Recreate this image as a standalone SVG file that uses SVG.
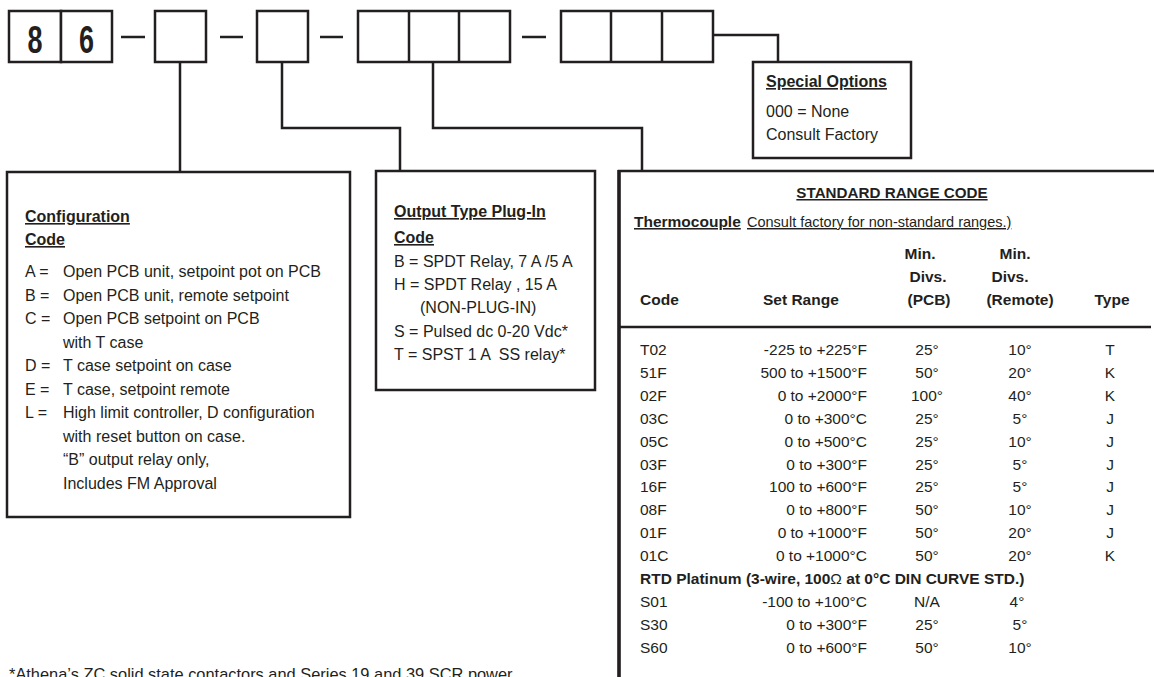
<svg xmlns="http://www.w3.org/2000/svg" width="1154" height="677" viewBox="0 0 1154 677">
<style>
.ln{stroke:#231f20;stroke-width:2.5;fill:none}
.bx{fill:#fff;stroke:#231f20;stroke-width:2.5}
.t{font-family:"Liberation Sans",Arial,sans-serif;font-size:16px;fill:#231f20}
.s{font-size:15.5px}
.b{font-weight:bold}
.u{text-decoration:underline}
.m{text-anchor:middle}
.e{text-anchor:end}
.dg{font-size:39px}
.ti{font-size:15.2px}
.sm{font-size:14.5px}
.fn{font-size:16.4px}
</style>
<rect width="1154" height="677" fill="#fff"/>

<g id="part-number">
<rect class="bx" x="9" y="11" width="52" height="51"/>
<rect class="bx" x="61" y="11" width="51" height="51"/>
<text class="t b m dg" x="35" y="53" textLength="15" lengthAdjust="spacingAndGlyphs">8</text>
<text class="t b m dg" x="86.5" y="53" textLength="15" lengthAdjust="spacingAndGlyphs">6</text>
<line class="ln" x1="121" y1="37" x2="145" y2="37"/>
<rect class="bx" x="155" y="11" width="51" height="51"/>
<line class="ln" x1="220" y1="37" x2="243" y2="37"/>
<rect class="bx" x="257" y="11" width="51" height="51"/>
<line class="ln" x1="320" y1="37" x2="343" y2="37"/>
<rect class="bx" x="358" y="11" width="152" height="51"/>
<line class="ln" x1="409" y1="11" x2="409" y2="62"/>
<line class="ln" x1="459" y1="11" x2="459" y2="62"/>
<line class="ln" x1="522" y1="37" x2="546" y2="37"/>
<rect class="bx" x="561" y="11" width="152" height="51"/>
<line class="ln" x1="611" y1="11" x2="611" y2="62"/>
<line class="ln" x1="662" y1="11" x2="662" y2="62"/>
</g>

<g id="connectors">
<polyline class="ln" points="180,62 180,172"/>
<polyline class="ln" points="282,62 282,128 400,128 400,171"/>
<polyline class="ln" points="433,62 433,128 642,128 642,171"/>
<polyline class="ln" points="713,35 778,35 778,62"/>
</g>

<g id="special-options">
<rect class="bx" x="753" y="62" width="158" height="96"/>
<text class="t b u" x="766" y="87">Special Options</text>
<text class="t" x="766" y="117">000 = None</text>
<text class="t" x="766" y="140">Consult Factory</text>
</g>

<g id="configuration-code">
<rect class="bx" x="7" y="172" width="343" height="345"/>
<text class="t b u" x="25" y="222">Configuration</text>
<text class="t b u" x="25" y="245">Code</text>
<text class="t" x="25" y="277">A =</text><text class="t" x="63" y="277">Open PCB unit, setpoint pot on PCB</text>
<text class="t" x="25" y="300.5">B =</text><text class="t" x="63" y="300.5">Open PCB unit, remote setpoint</text>
<text class="t" x="25" y="324">C =</text><text class="t" x="63" y="324">Open PCB setpoint on PCB</text>
<text class="t" x="63" y="347.5">with T case</text>
<text class="t" x="25" y="371">D =</text><text class="t" x="63" y="371">T case setpoint on case</text>
<text class="t" x="25" y="394.5">E =</text><text class="t" x="63" y="394.5">T case, setpoint remote</text>
<text class="t" x="25" y="418">L =</text><text class="t" x="63" y="418">High limit controller, D configuration</text>
<text class="t" x="63" y="441.5">with reset button on case.</text>
<text class="t" x="63" y="465">“B” output relay only,</text>
<text class="t" x="63" y="488.5">Includes FM Approval</text>
</g>

<g id="output-type">
<rect class="bx" x="376" y="171" width="219" height="219"/>
<text class="t b u" x="394" y="217">Output Type Plug-In</text>
<text class="t b u" x="394" y="243">Code</text>
<text class="t" x="394" y="267">B = SPDT Relay, 7 A /5 A</text>
<text class="t" x="394" y="290">H = SPDT Relay , 15 A</text>
<text class="t" x="420" y="313">(NON-PLUG-IN)</text>
<text class="t" x="394" y="337">S = Pulsed dc 0-20 Vdc*</text>
<text class="t" x="394" y="360" xml:space="preserve">T = SPST 1 A  SS relay*</text>
</g>

<g id="standard-range-code">
<rect class="bx" x="619" y="171" width="600" height="600"/>
<line x1="619" y1="170" x2="619" y2="677" stroke="#231f20" stroke-width="3.5"/>
<text class="t b u m ti" x="892" y="198">STANDARD RANGE CODE</text>
<text class="t b u s" x="634" y="227">Thermocouple</text>
<text class="t u sm" x="747" y="227">Consult factory for non-standard ranges.)</text>
<text class="t b s m" x="920" y="259">Min.</text>
<text class="t b s m" x="1015" y="259">Min.</text>
<text class="t b s m" x="928" y="282">Divs.</text>
<text class="t b s m" x="1010" y="282">Divs.</text>
<text class="t b s" x="640" y="305">Code</text>
<text class="t b s" x="763" y="305">Set Range</text>
<text class="t b s m" x="929" y="305">(PCB)</text>
<text class="t b s m" x="1020" y="305">(Remote)</text>
<text class="t b s m" x="1112" y="305">Type</text>
<line x1="619" y1="327" x2="1151" y2="327" stroke="#231f20" stroke-width="2.5"/>
<g class="t s">
<text x="640" y="355">T02</text><text class="e" x="867" y="355">-225 to +225°F</text><text class="m" x="927" y="355">25°</text><text class="m" x="1020" y="355">10°</text><text class="m" x="1110" y="355">T</text>
<text x="640" y="377.9">51F</text><text class="e" x="867" y="377.9">500 to +1500°F</text><text class="m" x="927" y="377.9">50°</text><text class="m" x="1020" y="377.9">20°</text><text class="m" x="1110" y="377.9">K</text>
<text x="640" y="400.8">02F</text><text class="e" x="867" y="400.8">0 to +2000°F</text><text class="m" x="927" y="400.8">100°</text><text class="m" x="1020" y="400.8">40°</text><text class="m" x="1110" y="400.8">K</text>
<text x="640" y="423.7">03C</text><text class="e" x="867" y="423.7">0 to +300°C</text><text class="m" x="927" y="423.7">25°</text><text class="m" x="1020" y="423.7">5°</text><text class="m" x="1110" y="423.7">J</text>
<text x="640" y="446.6">05C</text><text class="e" x="867" y="446.6">0 to +500°C</text><text class="m" x="927" y="446.6">25°</text><text class="m" x="1020" y="446.6">10°</text><text class="m" x="1110" y="446.6">J</text>
<text x="640" y="469.5">03F</text><text class="e" x="867" y="469.5">0 to +300°F</text><text class="m" x="927" y="469.5">25°</text><text class="m" x="1020" y="469.5">5°</text><text class="m" x="1110" y="469.5">J</text>
<text x="640" y="492.4">16F</text><text class="e" x="867" y="492.4">100 to +600°F</text><text class="m" x="927" y="492.4">25°</text><text class="m" x="1020" y="492.4">5°</text><text class="m" x="1110" y="492.4">J</text>
<text x="640" y="515.3">08F</text><text class="e" x="867" y="515.3">0 to +800°F</text><text class="m" x="927" y="515.3">50°</text><text class="m" x="1020" y="515.3">10°</text><text class="m" x="1110" y="515.3">J</text>
<text x="640" y="538.2">01F</text><text class="e" x="867" y="538.2">0 to +1000°F</text><text class="m" x="927" y="538.2">50°</text><text class="m" x="1020" y="538.2">20°</text><text class="m" x="1110" y="538.2">J</text>
<text x="640" y="561.1">01C</text><text class="e" x="867" y="561.1">0 to +1000°C</text><text class="m" x="927" y="561.1">50°</text><text class="m" x="1020" y="561.1">20°</text><text class="m" x="1110" y="561.1">K</text>
<text class="b" x="640" y="584">RTD Platinum (3-wire, 100<tspan font-weight="normal">Ω</tspan> at 0°C DIN CURVE STD.)</text>
<text x="640" y="606.9">S01</text><text class="e" x="867" y="606.9">-100 to +100°C</text><text class="m" x="927" y="606.9">N/A</text><text class="m" x="1017" y="606.9">4°</text>
<text x="640" y="629.8">S30</text><text class="e" x="867" y="629.8">0 to +300°F</text><text class="m" x="927" y="629.8">25°</text><text class="m" x="1020" y="629.8">5°</text>
<text x="640" y="652.7">S60</text><text class="e" x="867" y="652.7">0 to +600°F</text><text class="m" x="927" y="652.7">50°</text><text class="m" x="1020" y="652.7">10°</text>
</g>
</g>

<text class="t fn" x="9" y="680">*Athena’s ZC solid state contactors and Series 19 and 39 SCR power</text>
</svg>
